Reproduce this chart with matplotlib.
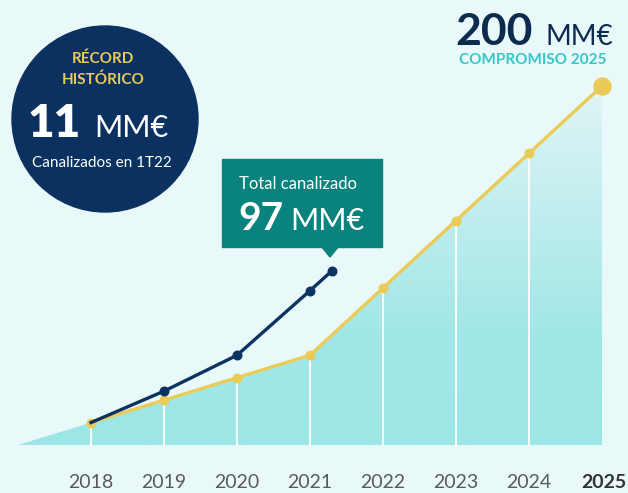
import numpy as np
import matplotlib.pyplot as plt
from matplotlib.patches import Circle, Polygon, Rectangle
from matplotlib.colors import LinearSegmentedColormap

plt.rcParams['font.family'] = ['Lato', 'DejaVu Sans']

# datos
years = [2018, 2019, 2020, 2021, 2022, 2023, 2024, 2025]
year_labels = ['2018', '2019', '2020', '2021', '2022', '2023', '2024', '2025']
compromiso = [12.5, 25, 37.5, 50, 87.5, 125, 162.5, 200]   # linea amarilla (MM€)
real_x = [2018, 2019, 2020, 2021, 2021.3]
real_y = [12.5, 30, 50, 86, 97]                            # linea azul (MM€)
area_x = [2017] + years
area_y = [0] + compromiso

bg = '#e9f8f9'
navy = '#0b3362'
yellow = '#ebcb58'
teal = '#0a827e'

fig = plt.figure(figsize=(6.28, 4.93), dpi=100)
fig.patch.set_facecolor(bg)
ax = fig.add_axes([0, 0, 1, 1])
ax.set_facecolor(bg)
ax.set_xlim(2018 - 91 / 73, 2018 + 537 / 73)
ax.set_ylim(-48 / 1.795, 445 / 1.795)
for s in ax.spines.values():
    s.set_visible(False)
ax.set_yticks([])
ax.set_xticks([])

# area con degradado
poly = ax.fill_between(area_x, 0, area_y, facecolor='none', edgecolor='none')
cmap = LinearSegmentedColormap.from_list('g', [(0, '#9de6e6'), (0.3, '#a2e7e7'),
                                                (0.75, '#cdf0f1'), (1, '#e6f7f8')])
grad = np.linspace(0, 1, 256).reshape(-1, 1)
im = ax.imshow(grad, extent=[2017, 2025, 0, 210], origin='lower', aspect='auto',
               cmap=cmap, zorder=1)
im.set_clip_path(poly.get_paths()[0], transform=ax.transData)

# lineas verticales blancas
for x, y in zip(years[:-1], compromiso[:-1]):
    ax.plot([x, x], [0, y], color='white', lw=1.3, zorder=2)

ax.plot(years, compromiso, color=yellow, lw=2.4, zorder=3)
ax.scatter(years[:-1], compromiso[:-1], s=38, color=yellow, zorder=4)
ax.scatter(years[-1:], compromiso[-1:], s=150, color=yellow, zorder=4)
ax.plot(real_x, real_y, color=navy, lw=2.4, zorder=5)
ax.scatter(real_x[1:], real_y[1:], s=38, color=navy, zorder=6)

for x, lab in zip(years, year_labels):
    bold = lab == '2025'
    ax.text(x + (0.02 if bold else 0), -21, lab, ha='center', va='center',
            fontsize=14, color='#333333' if bold else '#5a5a5a',
            fontweight='bold' if bold else 'normal')

# capa de anotaciones en pixeles
ov = fig.add_axes([0, 0, 1, 1])
ov.set_xlim(0, 628)
ov.set_ylim(493, 0)
ov.axis('off')
ov.patch.set_alpha(0)

ov.add_patch(Circle((105, 119), 93, color='#0a3160'))
ov.text(103, 59, 'RÉCORD', ha='center', va='center', fontsize=11,
        fontweight='bold', color=yellow)
ov.text(103, 80, 'HISTÓRICO', ha='center', va='center', fontsize=11,
        fontweight='bold', color=yellow)
ov.text(81, 137, '11', ha='right', va='baseline', fontsize=33,
        fontweight='heavy', color='white')
ov.text(94, 137, 'MM€', ha='left', va='baseline', fontsize=22,
        color='white')
ov.text(102, 163, 'Canalizados en 1T22', ha='center', va='center',
        fontsize=11, color='white')

ov.add_patch(Rectangle((222, 159), 160, 88, color=teal))
ov.add_patch(Polygon([(321, 246), (339, 246), (330, 257)], closed=True, color=teal))
ov.text(239, 184, 'Total canalizado', ha='left', va='center', fontsize=12,
        color='white')
ov.text(238, 230, '97', ha='left', va='baseline', fontsize=28,
        fontweight='bold', color='white')
ov.text(290, 230, 'MM€', ha='left', va='baseline', fontsize=22,
        color='white')

ov.text(533, 45, '200', ha='right', va='baseline', fontsize=32,
        fontweight='bold', color='#0d2a4f')
ov.text(545, 45, 'MM€', ha='left', va='baseline', fontsize=20,
        color='#0d2a4f')
ov.text(533, 60, 'COMPROMISO 2025', ha='center', va='center', fontsize=11,
        fontweight='bold', color='#35c8c9')

fig.savefig('out.png', dpi=100, facecolor=bg)
